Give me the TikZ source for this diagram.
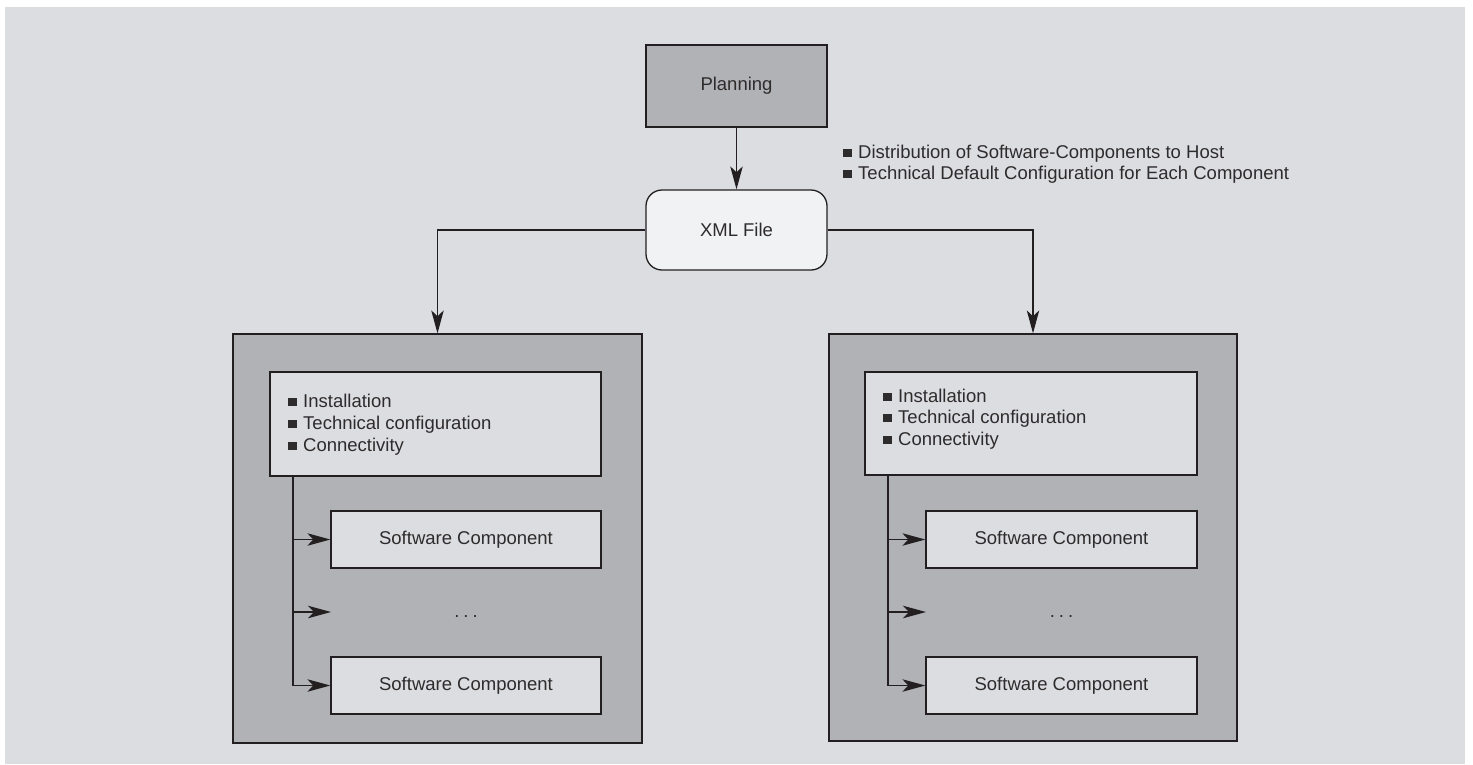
\documentclass[tikz,border=0pt]{standalone}
\usepackage{fontspec}
\setmainfont{Liberation Sans}
\usetikzlibrary{arrows.meta}
\definecolor{bg}{HTML}{DCDDE0}
\definecolor{dk}{HTML}{B1B2B5}
\definecolor{lt}{HTML}{F1F2F4}
\definecolor{ink}{HTML}{231F20}
\definecolor{txt}{HTML}{2E2B2C}
\newcommand\sqb{\rule[1pt]{8.5pt}{8pt}\hspace{6.5pt}}
\begin{document}
\begin{tikzpicture}[x=1pt,y=-1pt,
  every node/.style={font=\fontsize{18.5}{22}\selectfont, text=txt},
  frame/.style={draw=ink, line width=1.3pt, rectangle, inner sep=0pt},
  darkbox/.style={frame, fill=dk},
  lightbox/.style={frame, fill=bg},
  filebox/.style={frame, fill=lt, rounded corners=16pt},
  item/.style={anchor=base west, inner sep=0pt},
  arr/.style={draw=ink, line width=1.3pt, -{Stealth[length=23pt, width=12.5pt, inset=6pt]}},
  conn/.style={draw=ink, line width=1.3pt}]
\useasboundingbox (0,0) rectangle (1473,764);
\fill[bg] (5,7) rectangle (1465,764);

% top
\node[darkbox, minimum width=181pt, minimum height=82pt] (plan) at (736.5,86) {Planning};
\node[filebox, minimum width=181pt, minimum height=80pt] (xml) at (736.5,230) {XML File};
\draw[arr] (plan) -- (xml);

\node[item] (ann1) at (843,158) {\sqb Distribution of Software-Components to Host};
\node[item] (ann2) at (843,179) {\sqb Technical Default Configuration for Each Component};

% left host
\node[darkbox, minimum width=409pt, minimum height=409pt] (boxL) at (437.5,538.5) {};
\node[lightbox, minimum width=331pt, minimum height=104pt] (infoL) at (435.5,424) {};
\node[item] (iL1) at (288,407) {\sqb Installation};
\node[item] (iL2) at (288,429) {\sqb Technical configuration};
\node[item] (iL3) at (288,451) {\sqb Connectivity};
\node[lightbox, minimum width=270pt, minimum height=57pt] (sc1L) at (466,539.5) {Software Component};
\node[lightbox, minimum width=270pt, minimum height=57pt] (sc2L) at (466,685.5) {Software Component};
\node[inner sep=0pt, anchor=base] (dotsL) at (466,617) {.\hspace{4pt}.\hspace{4pt}.};
\coordinate (dL) at (331,612);
\coordinate (vL) at (293,476);
\draw[conn] (vL) -- (vL |- sc2L.west);
\draw[arr] (vL |- sc1L.west) -- (sc1L.west);
\draw[arr] (vL |- dL) -- (dL);
\draw[arr] (vL |- sc2L.west) -- (sc2L.west);

% right host
\node[darkbox, minimum width=408pt, minimum height=407pt] (boxR) at (1033,537.5) {};
\node[lightbox, minimum width=332pt, minimum height=103pt] (infoR) at (1031,423.5) {};
\node[item] (iR1) at (883,402) {\sqb Installation};
\node[item] (iR2) at (883,423) {\sqb Technical configuration};
\node[item] (iR3) at (883,445) {\sqb Connectivity};
\node[lightbox, minimum width=271pt, minimum height=57pt] (sc1R) at (1061.5,539.5) {Software Component};
\node[lightbox, minimum width=271pt, minimum height=57pt] (sc2R) at (1061.5,685.5) {Software Component};
\node[inner sep=0pt, anchor=base] (dotsR) at (1061.5,617) {.\hspace{4pt}.\hspace{4pt}.};
\coordinate (dR) at (926,612);
\coordinate (vR) at (888,475);
\draw[conn] (vR) -- (vR |- sc2R.west);
\draw[arr] (vR |- sc1R.west) -- (sc1R.west);
\draw[arr] (vR |- dR) -- (dR);
\draw[arr] (vR |- sc2R.west) -- (sc2R.west);

% distribution
\draw[arr] (xml.west) -| (boxL.north);
\draw[arr] (xml.east) -| (boxR.north);
\end{tikzpicture}
\end{document}
